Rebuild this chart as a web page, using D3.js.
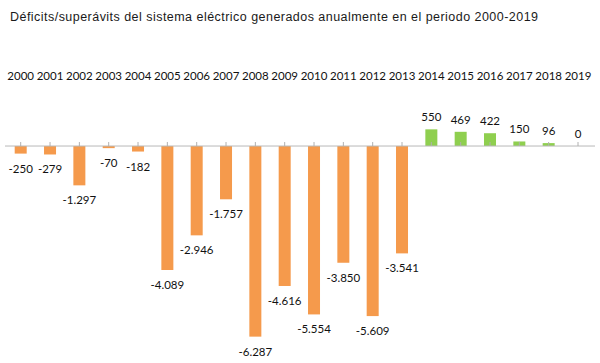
<!DOCTYPE html>
<html>
<head>
    <meta charset="UTF-8" />
    <style>
        body { margin: 0; background: #fff; }
        .title { font: 12.5px "Liberation Sans", Arial, sans-serif; fill: #1a1a1a; }
        .year, .val { font: 11.5px Lato, sans-serif; fill: #111; text-anchor: middle; }
    </style>
    <script src="https://d3js.org/d3.v7.min.js"></script>
</head>
<body>
    <svg width="600" height="363"></svg>
    <script>
        // datos, 2000-2019
        var years = ["2000","2001","2002","2003","2004","2005","2006","2007","2008","2009",
                     "2010","2011","2012","2013","2014","2015","2016","2017","2018","2019"];
        var values = [-250, -279, -1297, -70, -182, -4089, -2946, -1757, -6287, -4616,
                      -5554, -3850, -5609, -3541, 550, 469, 422, 150, 96, 0];

        var svg = d3.select("svg");

        var x = d3.scalePoint()
                  .domain(years)
                  .range([20.7, 578]);

        var y = d3.scaleLinear()
                  .domain([-6500, 1000])
                  .range([343.1, 115.7]);

        var fmt = d3.formatLocale({ decimal: ",", thousands: ".", grouping: [3], currency: ["", ""], minus: "-" }).format(",d");

        svg.append("text")
           .attr("class", "title")
           .attr("x", 10)
           .attr("y", 21)
           .attr("textLength", 528)
           .text("Déficits/superávits del sistema eléctrico generados anualmente en el periodo 2000-2019");

        // etiquetas de los años arriba
        svg.selectAll(".year")
           .data(years)
           .enter().append("text")
           .attr("class", "year")
           .attr("x", function(d) { return x(d); })
           .attr("y", 80)
           .text(function(d) { return d; });

        var barW = 12;

        svg.selectAll(".bar")
           .data(values)
           .enter().append("rect")
           .attr("class", "bar")
           .attr("x", function(d, i) { return x(years[i]) - barW / 2; })
           .attr("y", function(d) { return y(Math.max(d, 0)); })
           .attr("width", barW)
           .attr("height", function(d) { return Math.abs(y(d) - y(0)); })
           .attr("fill", function(d) { return d < 0 ? "#f59a4c" : "#8fcf4f"; });

        // eje
        svg.append("line")
           .attr("x1", 5).attr("x2", 595)
           .attr("y1", y(0)).attr("y2", y(0))
           .attr("stroke", "#b8b8b8")
           .attr("stroke-width", 1);

        svg.selectAll(".tick")
           .data(years)
           .enter().append("line")
           .attr("class", "tick")
           .attr("x1", function(d) { return x(d); })
           .attr("x2", function(d) { return x(d); })
           .attr("y1", y(0) - 4)
           .attr("y2", y(0))
           .attr("stroke", "#b0b0b0");

        svg.selectAll(".val")
           .data(values)
           .enter().append("text")
           .attr("class", "val")
           .attr("x", function(d, i) { return x(years[i]); })
           .attr("y", function(d) { return d < 0 ? y(d) + 19 : y(d) - 8; })
           .text(function(d) { return fmt(d); });
    </script>
</body>
</html>
